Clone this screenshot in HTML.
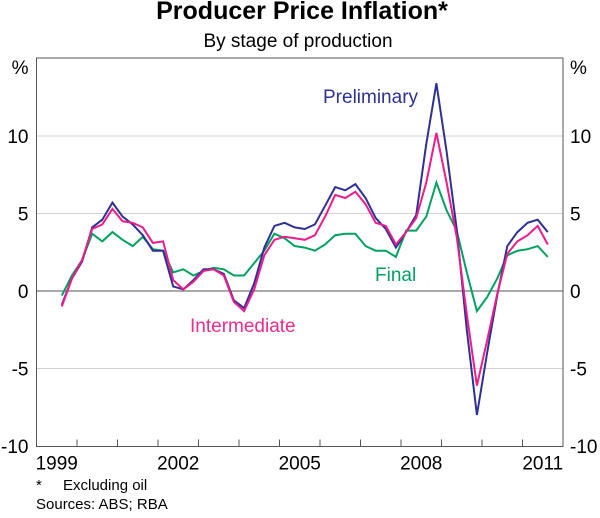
<!DOCTYPE html>
<html><head><meta charset="utf-8"><style>
body{margin:0;background:#fff;font-family:"Liberation Sans",sans-serif}
svg text{font-family:"Liberation Sans",sans-serif}
</style></head><body>
<svg id="c" width="600" height="513">
<text x="302" y="19" text-anchor="middle" font-size="25" font-weight="bold">Producer Price Inflation*</text>
<text x="298" y="47" text-anchor="middle" font-size="19">By stage of production</text>
<g id="grid"></g><g id="axes"></g><g id="series"></g>
<text x="323" y="103" font-size="19" fill="#2e3192">Preliminary</text>
<text x="375" y="281" font-size="19" fill="#00a160">Final</text>
<text x="190" y="332" font-size="19" fill="#ec2c8c">Intermediate</text>
<text x="36" y="490" font-size="15">*</text>
<text x="63" y="490" font-size="15">Excluding oil</text>
<text x="36" y="509" font-size="15">Sources: ABS; RBA</text>
</svg>
<script>
const yTicks=[10,5,0,-5,-10];
const yTickLabels=["10","5","0","-5","-10"];
const xLabels=["1999","2002","2005","2008","2011"];
const xLabelYears=[1999,2002,2005,2008,2011];
const startTime=1999.625;
const preliminary=[-0.9,0.8,1.9,4.1,4.6,5.7,4.8,4.3,3.6,2.6,2.6,0.3,0.1,0.7,1.4,1.4,1.1,-0.6,-1.1,0.5,2.8,4.2,4.4,4.1,4.0,4.3,5.5,6.7,6.5,6.9,6.0,4.7,4.0,2.8,3.8,4.9,9.5,13.4,9.0,4.0,-2.5,-8.0,-4.0,-0.3,2.9,3.8,4.4,4.6,3.8];
const intermediate=[-1.0,0.8,2.0,4.0,4.3,5.3,4.5,4.4,4.1,3.1,3.2,0.7,0.1,0.6,1.3,1.4,1.0,-0.7,-1.3,0.1,2.3,3.3,3.5,3.4,3.3,3.6,4.8,6.2,6.0,6.4,5.6,4.4,4.2,3.0,3.8,4.7,7.0,10.2,7.0,3.5,-1.5,-6.1,-3.2,-0.2,2.4,3.2,3.6,4.2,3.0];
const finalS=[-0.3,1.0,2.0,3.7,3.2,3.8,3.3,2.9,3.5,2.7,2.6,1.2,1.4,1.0,1.3,1.5,1.4,1.0,1.0,1.8,2.6,3.7,3.4,2.9,2.8,2.6,3.0,3.6,3.7,3.7,2.9,2.6,2.6,2.2,3.9,3.9,4.8,7.0,5.2,3.9,1.2,-1.3,-0.4,0.8,2.3,2.6,2.7,2.9,2.2];
const L=36.5,R=563,T=58,B=446.5;
const x=t=>L+(t-1999)*(R-L)/13;
const y=v=>291-v*15.5;
const NS="http://www.w3.org/2000/svg";
function mk(tag,attrs,parent,text){const e=document.createElementNS(NS,tag);for(const k in attrs)e.setAttribute(k,attrs[k]);if(text!==undefined)e.textContent=text;document.getElementById(parent).appendChild(e);return e;}
yTicks.forEach((v,i)=>{
 if(v!==-10&&v!==0){const g=mk('line',{x1:L,x2:R,y1:y(v),y2:y(v),stroke:'#d0d0d0','stroke-width':1},'grid');
 
 }
 const a=mk('text',{x:L-8,y:y(v)+7,'text-anchor':'end','font-size':19},'axes',yTickLabels[i]);
 
 
 const b=mk('text',{x:R+7,y:y(v)+7,'font-size':19},'axes',yTickLabels[i]);
 
 
});
const z=mk('line',{x1:L,x2:R,y1:y(0),y2:y(0),stroke:'#555','stroke-width':1},'axes');


const fr=mk('rect',{x:L,y:T,width:R-L,height:B-T,fill:'none',stroke:'#555','stroke-width':1},'axes');


const pl=mk('text',{x:L-8,y:T+16,'text-anchor':'end','font-size':19},'axes','%');


const pr=mk('text',{x:R+7,y:T+16,'font-size':19},'axes','%');


for(let yr=2000;yr<=2011;yr++){const t=mk('line',{x1:x(yr),x2:x(yr),y1:B,y2:B-7,stroke:'#555'},'axes');
 
 }
xLabels.forEach((s,i)=>{const t=mk('text',{x:x(xLabelYears[i]+0.5),y:B+23,'text-anchor':'middle','font-size':19},'axes',s);
 
 });
function line(arr,col,name){const d=arr.map((v,i)=>(i?'L':'M')+x(startTime+i*0.25).toFixed(1)+' '+y(v).toFixed(1)).join(' ');
 const p=mk('path',{d:d,fill:'none',stroke:col,'stroke-width':2,'stroke-linejoin':'miter'},'series');
 
 }
line(finalS,'#00a160','series-final');
line(preliminary,'#2e3192','series-preliminary');
line(intermediate,'#ec1c8c','series-intermediate');
</script>
</body></html>
